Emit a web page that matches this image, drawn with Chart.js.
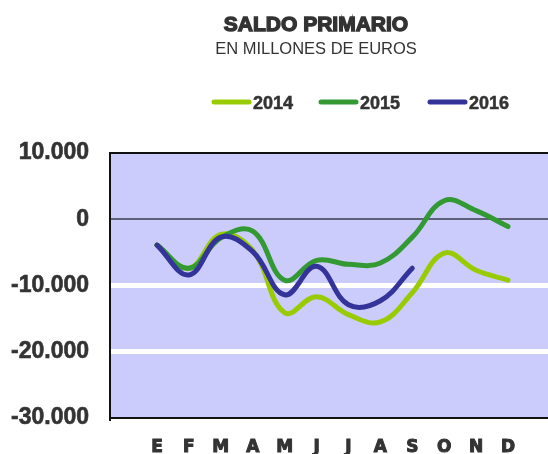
<!DOCTYPE html>
<html>
<head>
<meta charset="utf-8">
<script src="https://cdn.jsdelivr.net/npm/chart.js@4.4.1/dist/chart.umd.min.js"></script>
<style>
  html, body { margin: 0; padding: 0; background: #fff; }
  #wrap { width: 548px; height: 454px; }
</style>
</head>
<body>
<div id="wrap"><canvas id="chart"></canvas></div>
<script>
// data (millones de euros)
const months = ['E', 'F', 'M', 'A', 'M', 'J', 'J', 'A', 'S', 'O', 'N', 'D'];
const years = ['2014', '2015', '2016'];
const saldo2014 = [-3900, -7400, -2300, -4700, -14100, -11700, -14400, -15500, -11100, -5100, -7700, -9200];
const saldo2015 = [-3900, -7400, -2800, -1800, -9200, -6200, -6800, -6600, -2700, 2800, 1300, -1100];
const saldo2016 = [-3900, -8400, -2700, -4900, -11400, -7100, -12900, -12300, -7400];
const yTicks = [10000, 0, -10000, -20000, -30000];
const colors = ['#99cc00', '#339933', '#333399'];

function toPoints(arr) {
  return arr.map(function (v, i) { return { x: i, y: v }; });
}

function fmt(v) {
  // 10000 -> 10.000
  var s = Math.abs(v).toString().replace(/\B(?=(\d{3})+(?!\d))/g, '.');
  return (v < 0 ? '-' : '') + s;
}

// background, top border, titles and legend
const decor = {
  id: 'decor',
  beforeDraw: function (chart) {
    var ctx = chart.ctx, a = chart.chartArea;
    ctx.save();
    ctx.fillStyle = '#ccccfc';
    ctx.fillRect(a.left, a.top, a.right - a.left, a.bottom - a.top);
    ctx.restore();
  },
  afterDraw: function (chart) {
    var ctx = chart.ctx, a = chart.chartArea;
    ctx.save();
    ctx.strokeStyle = '#111';
    ctx.lineWidth = 2;
    ctx.beginPath();
    ctx.moveTo(a.left - 1, a.top);
    ctx.lineTo(a.right, a.top);
    ctx.stroke();

    ctx.fillStyle = '#333';
    ctx.strokeStyle = '#333';
    ctx.textAlign = 'center';
    ctx.textBaseline = 'alphabetic';
    ctx.font = 'bold 21px "Liberation Sans"';
    ctx.lineWidth = 1.4;
    ctx.fillText('SALDO PRIMARIO', 316, 31);
    ctx.strokeText('SALDO PRIMARIO', 316, 31);
    ctx.font = '16.5px "Liberation Sans"';
    ctx.fillText('EN MILLONES DE EUROS', 316, 54);

    // legend
    var xs = [212, 319, 428];
    ctx.textAlign = 'left';
    ctx.font = 'bold 18px "Liberation Sans"';
    ctx.lineCap = 'round';
    for (var i = 0; i < years.length; i++) {
      ctx.strokeStyle = colors[i];
      ctx.lineWidth = 5;
      ctx.beginPath();
      ctx.moveTo(xs[i] + 2, 102);
      ctx.lineTo(xs[i] + 37, 102);
      ctx.stroke();
      ctx.fillStyle = '#333';
      ctx.strokeStyle = '#333';
      ctx.lineWidth = 0.5;
      ctx.fillText(years[i], xs[i] + 41, 109);
      ctx.strokeText(years[i], xs[i] + 41, 109);
    }
    ctx.restore();
  }
};

const series = [saldo2014, saldo2015, saldo2016];

new Chart(document.getElementById('chart'), {
  type: 'line',
  data: {
    datasets: series.map(function (s, i) {
      return {
        label: years[i],
        data: toPoints(s),
        order: 3 - i, // 2016 on top
        borderColor: colors[i],
        borderWidth: 5,
        borderCapStyle: 'round',
        borderJoinStyle: 'round',
        pointRadius: 0,
        tension: 0.4,
        fill: false
      };
    })
  },
  options: {
    responsive: true,
    maintainAspectRatio: false,
    animation: false,
    layout: { padding: { top: 153, left: 11, right: 0, bottom: 0 } },
    plugins: { legend: { display: false }, tooltip: { enabled: false } },
    scales: {
      x: {
        type: 'linear',
        min: -1.473,
        max: 12.253,
        afterBuildTicks: function (scale) {
          scale.ticks = months.map(function (m, i) { return { value: i }; });
        },
        afterFit: function (scale) { scale.height = 36; },
        ticks: {
          autoSkip: false,
          maxRotation: 0,
          padding: 21,
          color: '#333',
          textStrokeColor: '#333',
          textStrokeWidth: 1,
          font: { family: 'DejaVu Sans', weight: 'bold', size: 17, lineHeight: 1 },
          callback: function (v) { return months[v]; }
        },
        grid: { display: false, drawTicks: false },
        border: { display: true, color: '#111', width: 2 }
      },
      y: {
        min: -30000,
        max: 10000,
        afterBuildTicks: function (scale) {
          scale.ticks = yTicks.map(function (v) { return { value: v }; });
        },
        afterFit: function (scale) { scale.width = 99; },
        ticks: {
          padding: 21,
          color: '#333',
          textStrokeColor: '#333',
          textStrokeWidth: 0.6,
          font: { family: 'Liberation Sans', weight: 'bold', size: 23 },
          callback: function (v) { return fmt(v); }
        },
        grid: {
          drawTicks: false,
          color: function (c) {
            if (!c.tick) return 'transparent';
            if (c.tick.value === 0) return '#5f5f78';
            if (c.tick.value === -10000 || c.tick.value === -20000) return '#ffffff';
            return 'transparent';
          },
          lineWidth: function (c) {
            if (c.tick && c.tick.value === 0) return 2;
            return 5;
          }
        },
        border: { display: true, color: '#111', width: 2 }
      }
    }
  },
  plugins: [decor]
});
</script>
</body>
</html>
